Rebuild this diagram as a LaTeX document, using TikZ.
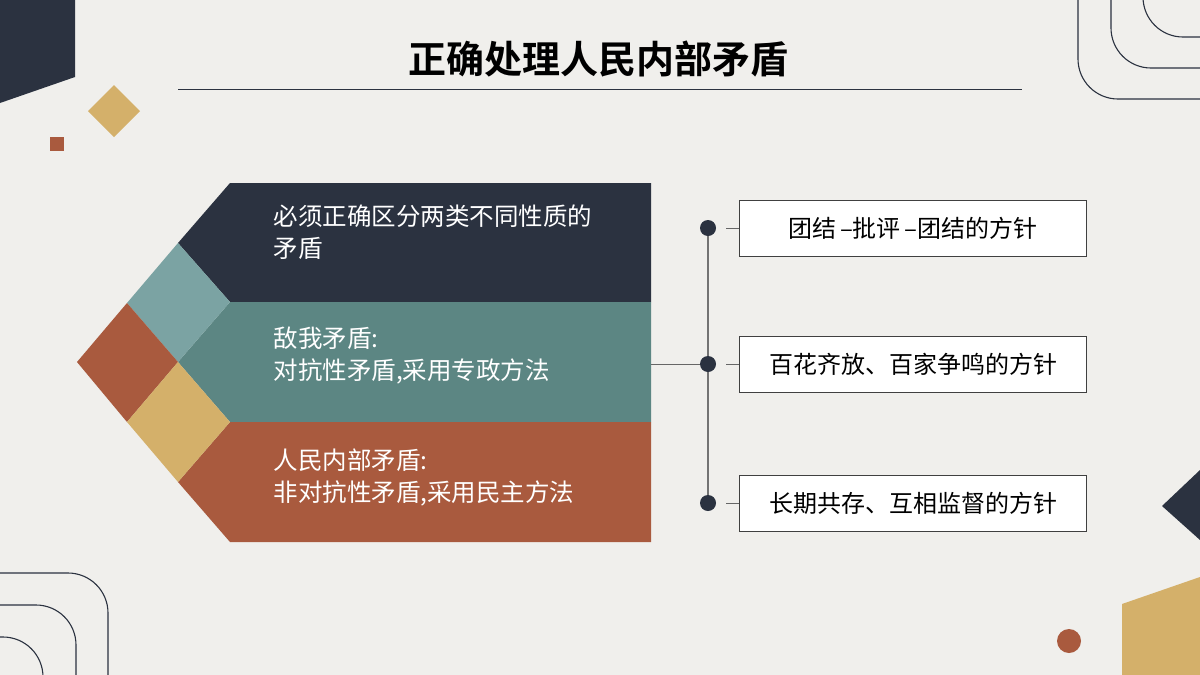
\documentclass[tikz,border=0pt]{standalone}
\usepackage{fontspec}
\setmainfont{Noto Sans CJK SC}
\newfontfamily\cjkbold{Noto Sans CJK SC Bold}
\definecolor{bgpaper}{HTML}{F0EFEC}
\definecolor{navy}{HTML}{2B3240}
\definecolor{lteal}{HTML}{7BA3A3}
\definecolor{teal2}{HTML}{5C8683}
\definecolor{rust}{HTML}{A95A3E}
\definecolor{sand}{HTML}{D4B06A}
\tikzset{
  bandtext/.style={text=white, font=\fontsize{24.5}{32}\selectfont, anchor=west, align=left},
  policybox/.style={draw=black!75, fill=white, line width=0.8pt, minimum width=347pt, minimum height=56pt, font=\fontsize{24}{26}\selectfont},
  dot/.style={circle, fill=navy, minimum size=16pt, inner sep=0pt},
  arc/.style={navy, line width=1.1pt, rounded corners=40pt},
}
\begin{document}
\begin{tikzpicture}[x=1pt,y=-1pt]
  \fill[bgpaper] (0,0) rectangle (1200,675);
  \useasboundingbox (0,0) rectangle (1200,675);

  % Ecken
  \fill[navy] (0,0) -- (75,0) -- (75,77) -- (0,103) -- cycle;
  \fill[sand] (114,85) -- (140,111) -- (114,137) -- (88,111) -- cycle;
  \fill[rust] (50,137) rectangle (64,151);
  \draw[arc] (1078,-5) -- (1078,99) -- (1205,99);
  \draw[arc] (1111,-5) -- (1111,68) -- (1205,68);
  \draw[arc] (1143,-5) -- (1143,37) -- (1205,37);
  \draw[arc] (-5,573) -- (108,573) -- (108,680);
  \draw[arc] (-5,605) -- (76,605) -- (76,680);
  \draw[arc] (-5,637) -- (43,637) -- (43,680);
  \fill[navy] (1200,470) -- (1162,506) -- (1200,540) -- cycle;
  \fill[sand] (1122,604) -- (1200,577) -- (1200,675) -- (1122,675) -- cycle;
  \fill[rust] (1069,641) circle (12);

  % Titel
  \node[font=\cjkbold\fontsize{38}{42}\selectfont, text=black] (title) at (598,59) {正确处理人民内部矛盾};
  \draw[navy, line width=1pt] (178,89) -- (1022,89);

  % Bänder
  \fill[navy] (230,183) -- (651,183) -- (651,302) -- (230,302) -- (178,243) -- cycle;
  \fill[teal2] (230,302) -- (651,302) -- (651,422) -- (230,422) -- (178,362) -- cycle;
  \fill[rust] (230,422) -- (651,422) -- (651,542) -- (230,542) -- (178,482) -- cycle;
  \fill[lteal] (178,243) -- (230,302) -- (178,362) -- (127,303) -- cycle;
  \fill[rust] (127,303) -- (178,362) -- (127,422) -- (77,362) -- cycle;
  \fill[sand] (178,362) -- (230,422) -- (178,482) -- (127,422) -- cycle;

  \node[bandtext] (b1) at (270,232) {必须正确区分两类不同性质的\\矛盾};
  \node[bandtext] (b2) at (270,356) {敌我矛盾:\\对抗性矛盾,采用专政方法};
  \node[bandtext] (b3) at (270,477) {人民内部矛盾:\\非对抗性矛盾,采用民主方法};

  % Verbindungen
  \coordinate (bandend) at (651,364);
  \node[dot] (d1) at (708,228) {};
  \node[dot] (d2) at (708,364) {};
  \node[dot] (d3) at (708,503) {};
  \node[policybox] (p1) at (913,228) {团结\,–批评\,–团结的方针};
  \node[policybox] (p2) at (913,364) {百花齐放、百家争鸣的方针};
  \node[policybox] (p3) at (913,503) {长期共存、互相监督的方针};
  \draw[black!55, line width=1.2pt] (d1) -- (d2) -- (d3);
  \draw[black!60, line width=1pt] (bandend) -- (d2);
  \foreach \i in {1,2,3}
    \draw[black!60, line width=1pt] (d\i.east) ++(10,0) -- (p\i.west);

\end{tikzpicture}
\end{document}
